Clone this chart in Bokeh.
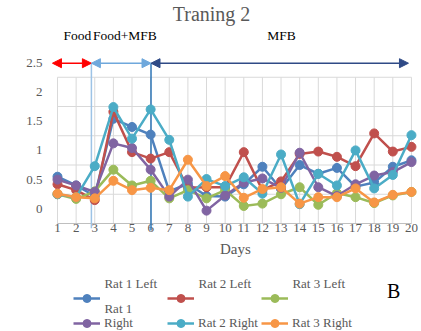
import numpy as np
from bokeh.plotting import figure
from bokeh.models import Range1d, FixedTicker, Legend, LegendItem, Label, Arrow, NormalHead
from bokeh.embed import file_html
from bokeh.resources import INLINE
from bokeh.core.properties import value

# ---------------- data ----------------
days = list(range(1, 21))
rat1_left = [0.55, 0.40, 0.22, 1.54, 1.40, 1.27, 0.30, 0.43, 0.22, 0.21,
             0.42, 0.72, 0.34, 0.75, 0.60, 0.70, 0.38, 0.45, 0.72, 0.83]
rat2_left = [0.42, 0.32, 0.15, 1.66, 0.97, 0.86, 0.97, 0.36, 0.37, 0.37,
             0.97, 0.32, 0.47, 0.94, 0.98, 0.89, 0.73, 1.29, 0.98, 1.06]
rat3_left = [0.25, 0.17, 0.30, 0.67, 0.40, 0.48, 0.18, 0.32, 0.18, 0.32,
             0.05, 0.09, 0.25, 0.37, 0.07, 0.27, 0.20, 0.10, 0.23, 0.29]
rat1_right = [0.50, 0.40, 0.29, 1.12, 1.04, 0.67, 0.21, 0.50, -0.03, 0.23,
              0.45, 0.52, 0.36, 0.96, 0.37, 0.22, 0.42, 0.57, 0.63, 0.80]
rat2_right = [0.25, 0.20, 0.73, 1.74, 1.20, 1.70, 1.18, 0.21, 0.51, 0.39,
              0.54, 0.26, 0.93, 0.08, 0.60, 0.40, 1.00, 0.35, 0.58, 1.26]
rat3_right = [0.26, 0.20, 0.18, 0.48, 0.32, 0.36, 0.32, 0.84, 0.39, 0.56,
              0.19, 0.34, 0.37, 0.09, 0.20, 0.20, 0.35, 0.11, 0.24, 0.29]

series_names = ["Rat 1 Left", "Rat 2 Left", "Rat 3 Left",
                "Rat 1 Right", "Rat 2 Right", "Rat 3 Right"]
series_values = [rat1_left, rat2_left, rat3_left, rat1_right, rat2_right, rat3_right]

y_tick_values = [0, 0.5, 1, 1.5, 2, 2.5]
x_tick_labels = [str(d) for d in days]

phase_names = ["Food", "Food+MFB", "MFB"]
phase_edges = [0.73, 2.82, 6.02, 19.84]   # day positions where the phases begin / end

# ---------------- styles ----------------
colors = ["#4F81BD", "#C0504D", "#9BBB59", "#8064A2", "#4BACC6", "#F79646"]
phase_colors = ["#FF0000", "#6FA8DC", "#2F4A86"]
sep_colors = ["#9DC3E6", "#2E75B6"]
FONT = "Liberation Serif"
GRAY = "#595959"
GRID = "#D9D9D9"

p = figure(width=421, height=331, output_backend="svg", toolbar_location=None,
           x_range=Range1d(0.678, 20.54), y_range=Range1d(-2.096, 3.562),
           x_axis_location=None,
           min_border_left=51, min_border_right=0, min_border_top=0,
           min_border_bottom=0)
p.outline_line_color = None
p.grid.visible = False

# gridlines (drawn only over the data area)
grid_y = list(np.arange(-0.25, 2.26, 0.5))
p.segment(x0=[days[0]] * len(grid_y), y0=grid_y, x1=[days[-1]] * len(grid_y), y1=grid_y,
          line_color=GRID, line_width=1)
p.segment(x0=days, y0=[-0.25] * len(days), x1=days, y1=[2.25] * len(days),
          line_color=GRID, line_width=1)
p.segment(x0=[days[0]], y0=[-0.25], x1=[days[-1]], y1=[-0.25], line_color="#BFBFBF", line_width=1)

# y axis
p.yaxis.ticker = FixedTicker(ticks=y_tick_values)
p.yaxis.major_label_overrides = {v: (str(v) if v != int(v) else str(int(v))) for v in y_tick_values}
p.yaxis.axis_line_color = None
p.yaxis.major_tick_line_color = None
p.yaxis.minor_tick_line_color = None
p.yaxis.major_label_text_font = FONT
p.yaxis.major_label_text_font_size = "13px"
p.yaxis.major_label_text_color = GRAY
p.yaxis.major_label_standoff = 3

# x tick labels and axis title
x_label_y = -0.32
p.text(x=days, y=[x_label_y] * len(days), text=x_tick_labels,
       text_font=value(FONT), text_font_size="13px", text_color=GRAY,
       text_align="center", text_baseline="middle")
p.add_layout(Label(x=10.55, y=-0.69, text="Days", text_font=FONT, text_font_size="15px",
                   text_color=GRAY, text_align="center", text_baseline="middle"))

# phase separators and arrows
arrow_y = 2.49
p.segment(x0=phase_edges[1:3], y0=[-0.33, -0.37], x1=phase_edges[1:3], y1=[arrow_y, arrow_y],
          line_color=sep_colors, line_width=1.5)
for i, name in enumerate(phase_names):
    c = phase_colors[i]
    p.add_layout(Arrow(x_start=phase_edges[i], y_start=arrow_y,
                       x_end=phase_edges[i + 1], y_end=arrow_y,
                       line_color=c, line_width=1.5,
                       start=NormalHead(size=9, fill_color=c, line_color=c),
                       end=NormalHead(size=9, fill_color=c, line_color=c)))
label_pos = [2.07, 4.62, 13.02]
for name, xp in zip(phase_names, label_pos):
    p.add_layout(Label(x=xp, y=2.97, text=name, text_font=FONT, text_font_size="13.5px",
                       text_color="black", text_align="center", text_baseline="middle"))

# title and y label
p.add_layout(Label(x=9.27, y=3.33, text="Traning 2", text_font=FONT, text_font_size="20px",
                   text_color=GRAY, text_align="center", text_baseline="middle"))
p.add_layout(Label(x=-0.88, y=1.33, text="Velocity  (cm/s)", text_font=FONT,
                   text_font_size="14px", text_font_style="italic", text_color=GRAY,
                   text_align="center", text_baseline="middle", angle=np.pi / 2))

# data series
renderers = []
for name, vals, c in zip(series_names, series_values, colors):
    lr = p.line(days, vals, line_color=c, line_width=2.5)
    sr = p.scatter(days, vals, marker="circle", size=9, fill_color=c, line_color=c)
    renderers.append([lr, sr])

# ---------------- legend (wrapped like the original) ----------------
legend_common = dict(orientation="horizontal", glyph_width=27, glyph_height=20,
                     label_width=63, label_height=14, label_standoff=4, spacing=0,
                     padding=0, margin=0, border_line_alpha=0, background_fill_alpha=0,
                     label_text_font=FONT, label_text_font_size="13px",
                     label_text_color=GRAY)

# row 1: key lines; their names sit one line above the keys
row1 = [LegendItem(label=" ", renderers=renderers[i]) for i in range(3)]
p.add_layout(Legend(items=row1, location=(22, 23), **legend_common), "center")
row1_text_x = [3.52, 8.57, 13.61]
for i in range(3):
    p.add_layout(Label(x=row1_text_x[i], y=-1.28, text=series_names[i], text_font=FONT,
                       text_font_size="13px", text_color=GRAY,
                       text_align="left", text_baseline="middle"))

# row 2: "Rat 1 Right" wraps onto two lines
row2_labels = ["Right", series_names[4], series_names[5]]
row2 = [LegendItem(label=row2_labels[k], renderers=renderers[3 + k]) for k in range(3)]
p.add_layout(Legend(items=row2, location=(22, -2), **legend_common), "center")
p.add_layout(Label(x=3.52, y=-1.71, text="Rat 1", text_font=FONT, text_font_size="13px",
                   text_color=GRAY, text_align="left", text_baseline="middle"))

p.add_layout(Label(x=19.04, y=-1.41, text="B", text_font=FONT, text_font_size="20px",
                   text_color="black", text_align="center", text_baseline="middle"))

open("out.html", "w").write(file_html(p, INLINE))
